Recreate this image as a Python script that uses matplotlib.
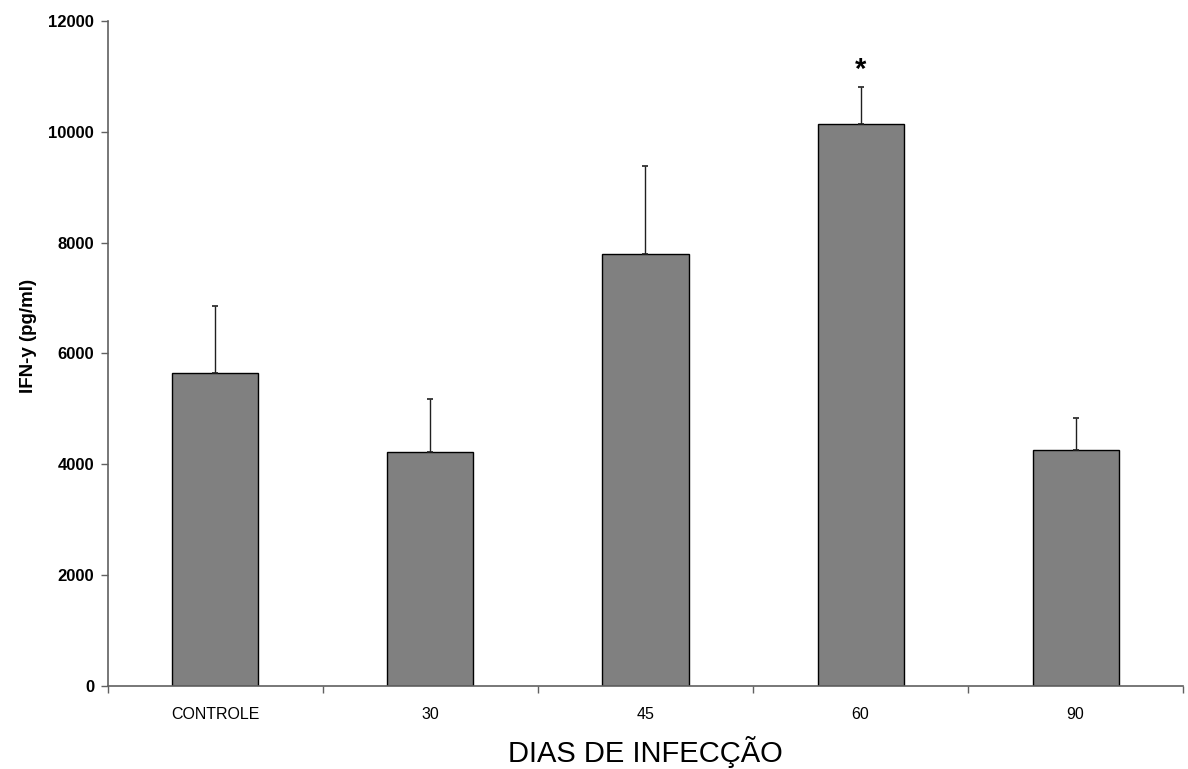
import matplotlib
matplotlib.use('Agg')
from matplotlib import pyplot as plt

plt.rcParams['font.family'] = ['Liberation Sans', 'DejaVu Sans']

categories = ['CONTROLE', '30', '45', '60', '90']
means = [5640, 4218, 7798, 10144, 4254]
upper_err = [1219, 962, 1588, 662, 578]  # only the upper half is drawn
significant = [False, False, False, True, False]

fig = plt.figure(figsize=(11.88, 7.69), dpi=100)
ax = fig.add_axes([0.0909, 0.108, 0.9049, 0.8647])

x = list(range(len(categories)))
ax.bar(x, means, width=0.4, color='#808080', edgecolor='black', linewidth=1.0, zorder=2)
ax.errorbar(x, means, yerr=[[0] * len(means), upper_err], fmt='none',
            ecolor='#202020', elinewidth=1.0, capsize=2.5, capthick=1.2, zorder=3)

for xi, m, e, s in zip(x, means, upper_err, significant):
    if s:
        ax.annotate('*', (xi, m + e), xytext=(0, 2), textcoords='offset points',
                    ha='center', va='bottom', fontsize=21, fontweight='bold')

ax.set_xlim(-0.5, len(categories) - 0.5)
ax.set_ylim(0, 12000)
ax.set_yticks(range(0, 12001, 2000))

# tick marks between categories, labels at the centres
ax.set_xticks([i - 0.5 for i in range(len(categories) + 1)])
ax.set_xticklabels([])
ax.set_xticks(x, minor=True)
ax.set_xticklabels(categories, minor=True)
ax.tick_params(axis='x', which='major', length=5, width=1, color='#606060')
ax.tick_params(axis='x', which='minor', length=0, pad=15, labelsize=11.5)
ax.tick_params(axis='y', length=5, width=1, color='#606060', labelsize=12, pad=5)
for lab in ax.get_yticklabels():
    lab.set_fontweight('bold')

for side in ['top', 'right']:
    ax.spines[side].set_visible(False)
for side in ['left', 'bottom']:
    ax.spines[side].set_color('#606060')
    ax.spines[side].set_linewidth(1.2)

ax.set_ylabel('IFN-y (pg/ml)', fontsize=13.5, fontweight='bold')
ax.yaxis.set_label_coords(-0.066, 0.527)
ax.set_xlabel('DIAS DE INFECÇÃO', fontsize=21, labelpad=10)

plt.savefig('out.png', dpi=100)
